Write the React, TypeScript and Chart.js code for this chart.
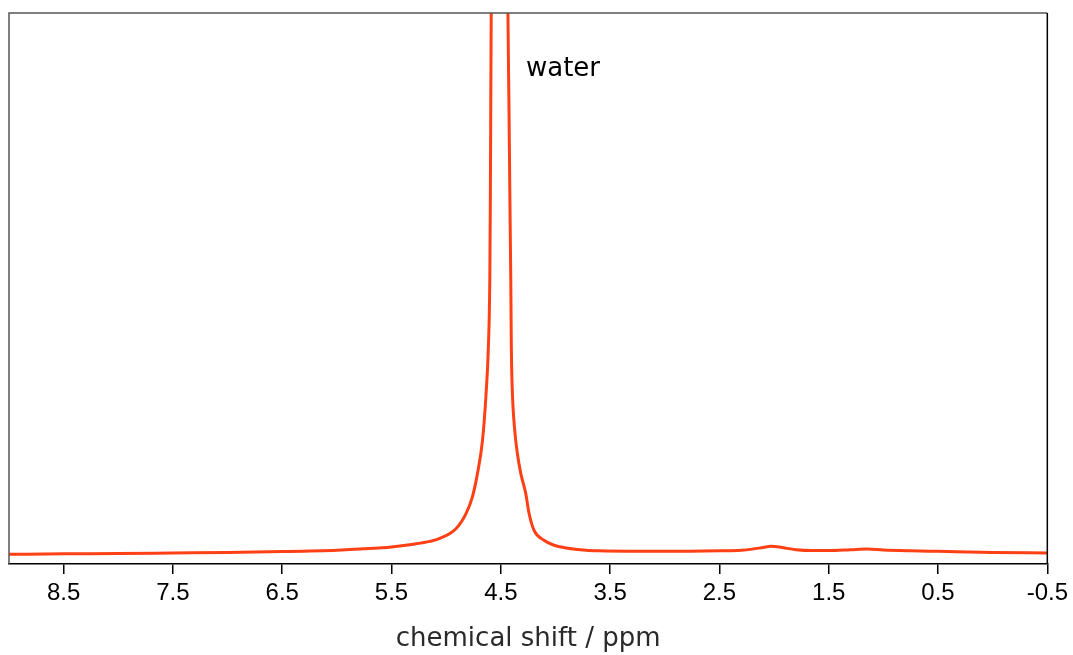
import React, { useEffect, useRef } from "react";
import { Chart, registerables } from "chart.js";

Chart.register(...registerables);

// chemical shift (ppm) and intensity (0..100 = visible frame height; peak runs off the top)
const shiftPpm = [
  9.0, 8.5, 8.0, 7.5, 7.0, 6.5, 6.0, 5.75, 5.5, 5.3, 5.15, 5.064, 4.911, 4.82,
  4.76, 4.714, 4.668, 4.637, 4.614, 4.601, 4.596, 4.592, 4.588, 4.51,
  4.435, 4.426, 4.417, 4.409, 4.404, 4.395, 4.373, 4.349, 4.318, 4.272, 4.242,
  4.196, 4.105, 4.014, 3.9, 3.721, 3.6, 3.0, 2.5, 2.3, 2.2, 2.1, 2.03, 1.97,
  1.9, 1.8, 1.65, 1.5, 1.3, 1.15, 1.0, 0.75, 0.5, 0.0, -0.5,
];
const intensity = [
  1.76, 1.85, 1.9, 2.0, 2.1, 2.25, 2.5, 2.75, 3.1, 3.6, 4.1, 4.6, 6.4, 9.1,
  12.2, 16.4, 22.4, 30.3, 39.4, 51.5, 66, 84, 100, 400,
  100, 84, 66, 51.5, 39.4, 31.5, 24.3, 20.1, 16.5, 12.8, 9.2,
  6.1, 4.3, 3.4, 2.9, 2.5, 2.4, 2.3, 2.4, 2.5, 2.7, 3.0, 3.2, 3.15,
  2.9, 2.6, 2.45, 2.45, 2.6, 2.72, 2.55, 2.4, 2.3, 2.1, 2.0,
];
const tickValues = [8.5, 7.5, 6.5, 5.5, 4.5, 3.5, 2.5, 1.5, 0.5, -0.5];
const tickLabels = ["8.5", "7.5", "6.5", "5.5", "4.5", "3.5", "2.5", "1.5", "0.5", "-0.5"];
const annotationText = "water";
const annotationPpm = 4.27;
const annotationValue = 88.5;
const axisTitle = "chemical shift / ppm";

export default function App() {
  const ref = useRef<HTMLCanvasElement | null>(null);
  useEffect(() => {
    if (!ref.current) return;
    const framePlugin = {
      id: "frameAndLabel",
      afterDatasetsDraw(chart: any) {
        const { ctx, chartArea, scales } = chart;
        ctx.save();
        ctx.lineWidth = 1.5;
        ctx.strokeStyle = "#555";
        ctx.beginPath();
        ctx.moveTo(chartArea.left, chartArea.bottom);
        ctx.lineTo(chartArea.left, chartArea.top);
        ctx.lineTo(chartArea.right, chartArea.top);
        ctx.stroke();
        ctx.strokeStyle = "#000";
        ctx.beginPath();
        ctx.moveTo(chartArea.right, chartArea.top);
        ctx.lineTo(chartArea.right, chartArea.bottom);
        ctx.stroke();
        const x = scales.x.getPixelForValue(annotationPpm);
        const y = scales.y.getPixelForValue(annotationValue);
        ctx.fillStyle = "#000";
        ctx.font = '26px "DejaVu Sans"';
        ctx.textAlign = "left";
        ctx.textBaseline = "alphabetic";
        ctx.fillText(annotationText, x, y);
        ctx.restore();
      },
    };
    const chart = new Chart(ref.current, {
      type: "line",
      data: {
        datasets: [
          {
            data: shiftPpm.map((p, i) => ({ x: p, y: intensity[i] })),
            borderColor: "#ff4015",
            borderWidth: 3,
            pointRadius: 0,
            fill: false,
            cubicInterpolationMode: "monotone",
          },
        ],
      },
      options: {
        animation: false,
        responsive: true,
        maintainAspectRatio: false,
        layout: { padding: { left: 9, top: 13, right: 24, bottom: 0 } },
        plugins: { legend: { display: false }, tooltip: { enabled: false } },
        scales: {
          x: {
            type: "linear",
            reverse: true,
            min: -0.5,
            max: 9.0,
            afterBuildTicks: (scale: any) => {
              scale.ticks = tickValues.map((v) => ({ value: v }));
            },
            afterFit: (scale: any) => {
              scale.height = 91;
            },
            ticks: {
              autoSkip: false,
              maxRotation: 0,
              padding: 5,
              color: "#000",
              font: { family: '"Liberation Sans"', size: 24 },
              callback: (v: any) => {
                const idx = tickValues.indexOf(Number(v));
                return idx >= 0 ? tickLabels[idx] : "";
              },
            },
            grid: {
              display: true,
              drawOnChartArea: false,
              drawTicks: true,
              tickLength: 10,
              color: "#000",
              lineWidth: 1.5,
            },
            border: { display: true, color: "#000", width: 1.5 },
            title: {
              display: true,
              text: axisTitle,
              color: "#2a2a2a",
              font: { family: '"DejaVu Sans"', size: 26 },
              padding: { top: 4, bottom: 0 },
            },
          },
          y: {
            display: false,
            min: 0,
            max: 100,
          },
        },
      },
      plugins: [framePlugin],
    });
    return () => chart.destroy();
  }, []);
  return (
    <div style={{ position: "fixed", left: 0, top: 0, width: 1073, height: 655, background: "#fff" }}>
      <canvas ref={ref} style={{ display: "block" }} />
    </div>
  );
}
